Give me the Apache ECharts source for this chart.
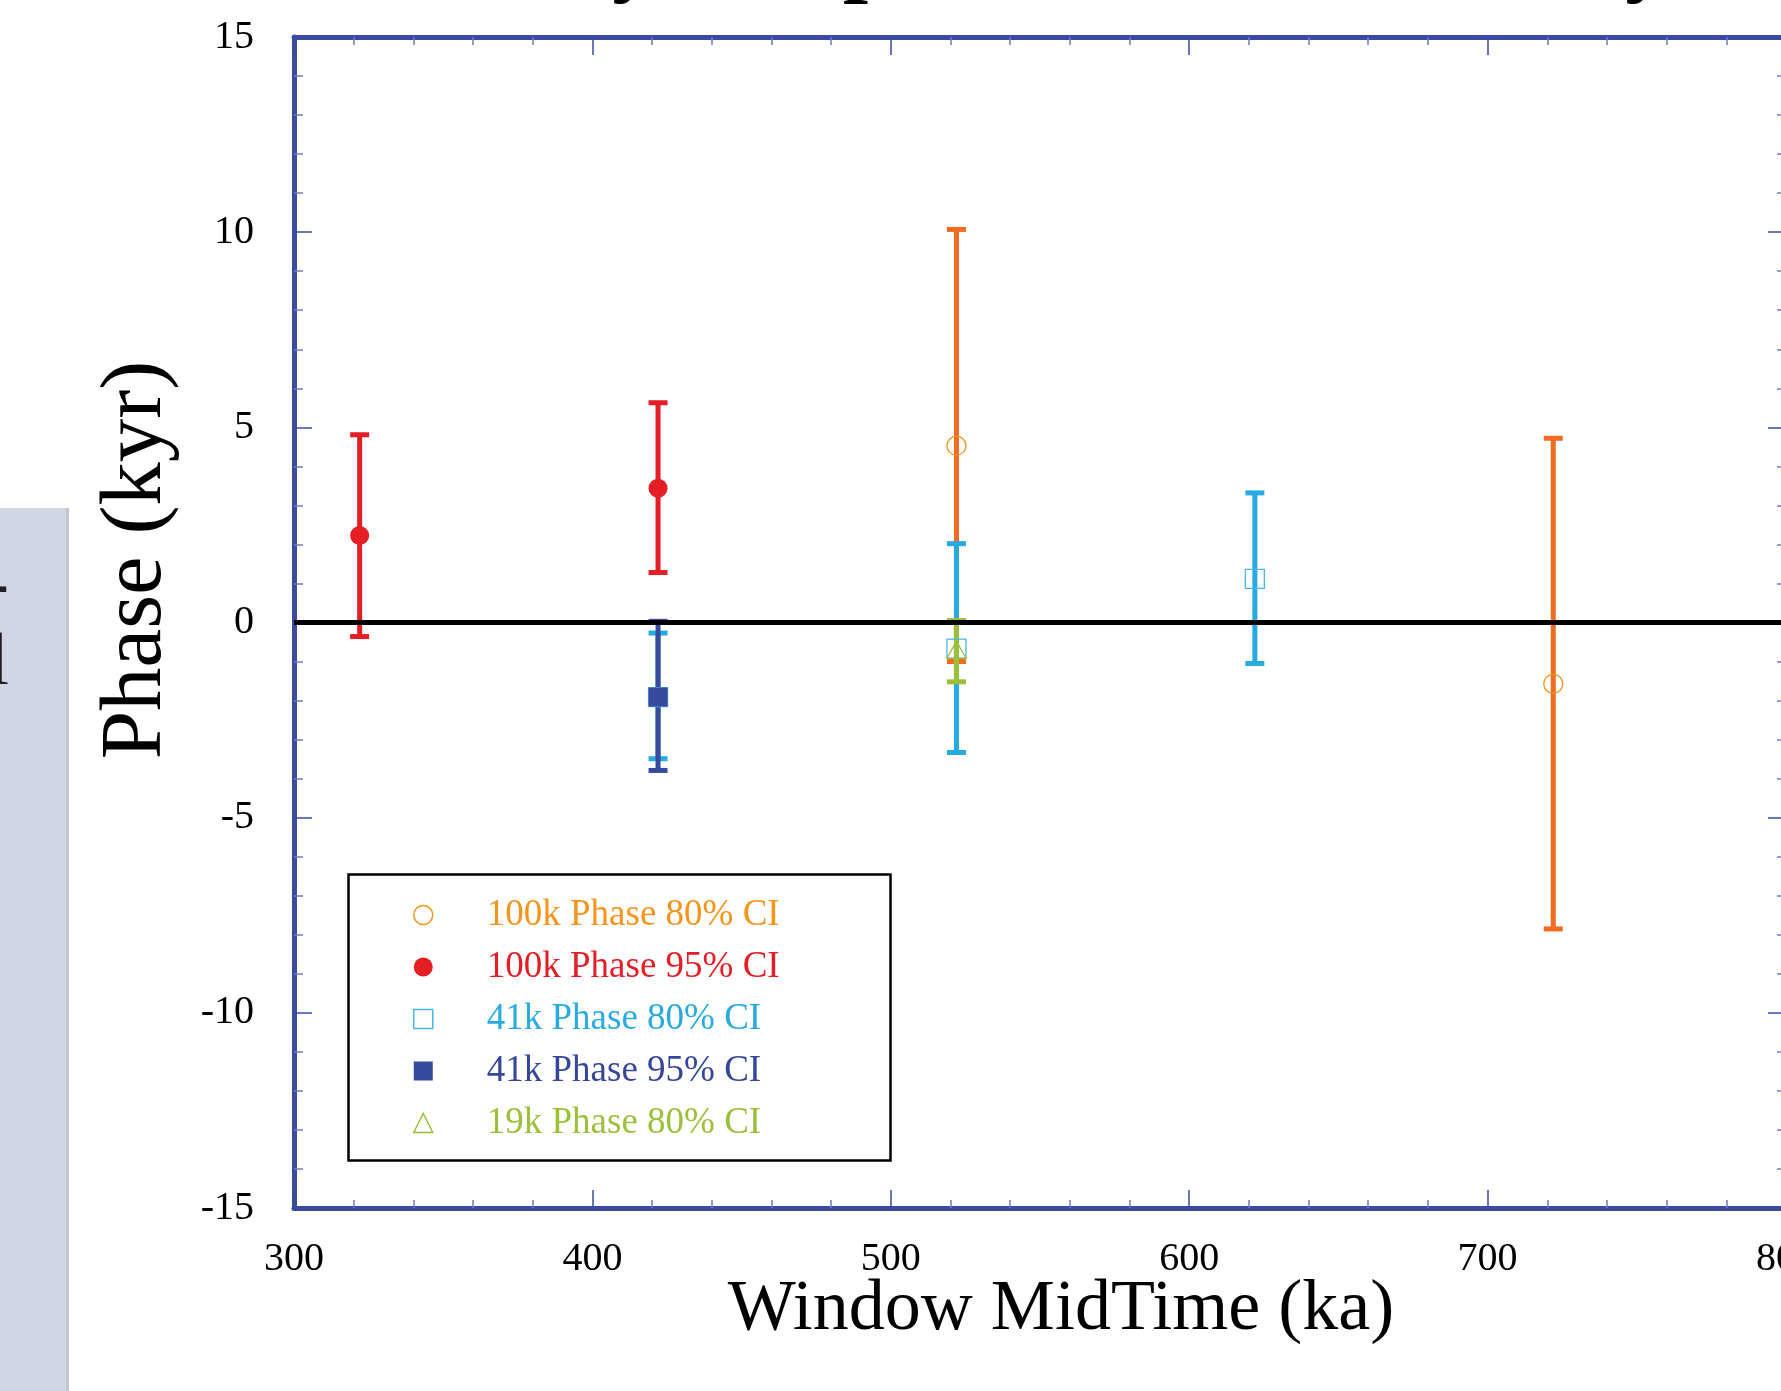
<!DOCTYPE html>
<html>
<head>
<meta charset="utf-8">
<script src="https://cdn.jsdelivr.net/npm/echarts@6/dist/echarts.min.js"></script>
<title>Phase vs Window MidTime</title>
</head>
<body style="margin:0;background:#fff">
<div id="container" style="width:1781px;height:1391px"></div>
<script>
// legend names
var seriesNames = ['100k Phase 80% CI', '100k Phase 95% CI', '41k Phase 80% CI', '41k Phase 95% CI', '19k Phase 80% CI'];

// window midtime (ka), phase (kyr) and confidence interval ends (kyr)
var midTime100k80 = [522, 722];
var phase100k80 = [4.53, -1.57];
var low100k80 = [-1.0, -7.85];
var high100k80 = [10.07, 4.72];

var midTime100k95 = [322, 422];
var phase100k95 = [2.23, 3.44];
var low100k95 = [-0.36, 1.28];
var high100k95 = [4.81, 5.63];

var midTime41k80 = [422, 522, 622];
var phase41k80 = [-1.91, -0.67, 1.12];
var low41k80 = [-3.49, -3.33, -1.05];
var high41k80 = [-0.27, 2.02, 3.32];

var midTime41k95 = [422];
var phase41k95 = [-1.91];
var low41k95 = [-3.79];
var high41k95 = [0.03];

var midTime19k80 = [522];
var phase19k80 = [-0.7];
var low19k80 = [-1.52];
var high19k80 = [0.05];

// axis ticks
var xTicks = [300, 400, 500, 600, 700, 800];
var yTicks = [-15, -10, -5, 0, 5, 10, 15];

var serif = '"Liberation Serif", "DejaVu Serif", serif';
var axisBlue = '#3a4ba1';

function rows(x, p, lo, hi) {
    var res = [];
    for (var i = 0; i < x.length; i++) {
        res.push([x[i], p[i], lo[i], hi[i]]);
    }
    return res;
}

// vertical bar with caps, drawn from the data through the axes
function errorBar(color) {
    return function(params, api) {
        var top = api.coord([api.value(0), api.value(3)]);
        var bot = api.coord([api.value(0), api.value(2)]);
        var w = 9.5;
        var st = { stroke: color, lineWidth: 5 };
        return {
            type: 'group',
            children: [
                { type: 'line', shape: { x1: top[0], y1: top[1], x2: bot[0], y2: bot[1] }, style: st },
                { type: 'line', shape: { x1: top[0] - w, y1: top[1], x2: top[0] + w, y2: top[1] }, style: st },
                { type: 'line', shape: { x1: bot[0] - w, y1: bot[1], x2: bot[0] + w, y2: bot[1] }, style: st }
            ]
        };
    };
}

var groups = [
    { data: rows(midTime100k80, phase100k80, low100k80, high100k80), bar: '#f26b21', mark: '#f7941d', symbol: 'circle', filled: false },
    { data: rows(midTime100k95, phase100k95, low100k95, high100k95), bar: '#e31e24', mark: '#e31e24', symbol: 'circle', filled: true },
    { data: rows(midTime41k80, phase41k80, low41k80, high41k80), bar: '#27aae1', mark: '#4db5e6', symbol: 'rect', filled: false },
    { data: rows(midTime41k95, phase41k95, low41k95, high41k95), bar: '#364a9e', mark: '#364a9e', symbol: 'rect', filled: true },
    { data: rows(midTime19k80, phase19k80, low19k80, high19k80), bar: '#9bbf3b', mark: '#9bbf3b', symbol: 'triangle', filled: false }
];
var textColors = ['#f7941d', '#e31e24', '#29abe2', '#36479b', '#9dc03c'];

var series = [];
var legendData = [];
groups.forEach(function(g, i) {
    series.push({
        name: seriesNames[i] + ' bar',
        type: 'custom',
        renderItem: errorBar(g.bar),
        encode: { x: 0, y: [2, 3] },
        data: g.data,
        silent: true,
        z: 2
    });
});
groups.forEach(function(g, i) {
    var style = g.filled
        ? { color: g.mark, opacity: 1 }
        : { color: 'rgba(0,0,0,0)', borderColor: g.mark, borderWidth: 1.3, opacity: 1 };
    series.push({
        name: seriesNames[i],
        type: 'scatter',
        symbol: g.symbol,
        symbolSize: g.symbol === 'triangle' ? [19, 17] : 19,
        itemStyle: style,
        data: g.data.map(function(r) { return [r[0], r[1]]; }),
        silent: true,
        z: 3
    });
    legendData.push({
        name: seriesNames[i],
        icon: g.symbol,
        itemStyle: g.filled ? { color: g.mark, borderWidth: 0, opacity: 1 } : { color: '#fff', borderColor: g.mark, borderWidth: 1.5, opacity: 1 },
        textStyle: { color: textColors[i] }
    });
});
// zero reference line
series.push({
    name: 'zero',
    type: 'line',
    data: [],
    z: 5,
    markLine: {
        silent: true,
        symbol: 'none',
        label: { show: false },
        lineStyle: { color: '#000', width: 5, type: 'solid' },
        data: [{ yAxis: 0 }]
    }
});

function xAxisDef(pos, labels) {
    return {
        type: 'value', position: pos, min: xTicks[0], max: xTicks[xTicks.length - 1], interval: 100,
        axisLine: { onZero: false, lineStyle: { color: axisBlue, width: 5 } },
        axisTick: { inside: true, length: 18, lineStyle: { color: axisBlue, width: 1.5 } },
        minorTick: { show: true, splitNumber: 5, length: 8, lineStyle: { color: '#6f7dc0', width: 1.5 } },
        splitLine: { show: false },
        axisLabel: { show: labels, color: '#000', fontFamily: serif, fontSize: 40, margin: 31 }
    };
}
function yAxisDef(pos, labels) {
    return {
        type: 'value', position: pos, min: yTicks[0], max: yTicks[yTicks.length - 1], interval: 5,
        axisLine: { onZero: false, lineStyle: { color: axisBlue, width: 5 } },
        axisTick: { inside: true, length: 18, lineStyle: { color: axisBlue, width: 1.5 } },
        minorTick: { show: true, splitNumber: 5, length: 9, lineStyle: { color: '#6f7dc0', width: 1.5 } },
        splitLine: { show: false },
        axisLabel: { show: labels, color: '#000', fontFamily: serif, fontSize: 40, margin: 40 }
    };
}

var titleFont = 'bold 90px ' + serif;

var myChart = echarts.init(document.getElementById('container'));
var option = {
    animation: false,
    backgroundColor: '#fff',
    grid: { left: 294, top: 37, width: 1492, height: 1171, outerBoundsMode: 'none', containLabel: false },
    xAxis: [xAxisDef('bottom', true), xAxisDef('top', false)],
    yAxis: [yAxisDef('left', true), yAxisDef('right', false)],
    legend: {
        orient: 'vertical',
        left: 408,
        top: 890,
        itemWidth: 19,
        itemHeight: 19,
        itemGap: 12,
        selectedMode: false,
        data: legendData,
        formatter: '{g|}{name}',
        textStyle: {
            fontFamily: serif,
            fontSize: 37,
            lineHeight: 40,
            rich: { g: { width: 49 } }
        }
    },
    graphic: [
        // slide panel at the left edge
        { type: 'rect', left: 0, top: 508, shape: { width: 67, height: 883 }, style: { fill: '#cfd5e4' } },
        { type: 'rect', left: 66, top: 508, shape: { width: 3, height: 883 }, style: { fill: '#c3c6cd' } },
        { type: 'text', x: 9, y: 625, style: { text: '-', font: '74px ' + serif, fill: '#231f20', textAlign: 'right', textVerticalAlign: 'bottom' } },
        { type: 'text', x: 9, y: 702, style: { text: 'l', font: '74px ' + serif, fill: '#231f20', textAlign: 'right', textVerticalAlign: 'bottom' } },
        // title cut at the top edge, only descenders show
        { type: 'text', x: 612, y: -38, style: { text: 'y', font: titleFont, fill: '#000', textAlign: 'left', textVerticalAlign: 'middle' } },
        { type: 'text', x: 843, y: -38, style: { text: 'p', font: titleFont, fill: '#000', textAlign: 'left', textVerticalAlign: 'middle' } },
        { type: 'text', x: 1625, y: -38, style: { text: 'y', font: titleFont, fill: '#000', textAlign: 'left', textVerticalAlign: 'middle' } },
        // legend frame
        { type: 'rect', left: 346, top: 872, shape: { width: 542, height: 286 }, style: { fill: 'none', stroke: '#000', lineWidth: 2.5 } },
        // axis titles
        { type: 'text', x: 1061, y: 1310, style: { text: 'Window MidTime (ka)', font: '72px ' + serif, fill: '#000', textAlign: 'center', textVerticalAlign: 'middle' } },
        { type: 'text', x: 137, y: 560, rotation: Math.PI / 2, style: { text: 'Phase (kyr)', font: '87px ' + serif, fill: '#000', textAlign: 'center', textVerticalAlign: 'middle' } }
    ],
    series: series
};
myChart.setOption(option);
</script>
</body>
</html>
